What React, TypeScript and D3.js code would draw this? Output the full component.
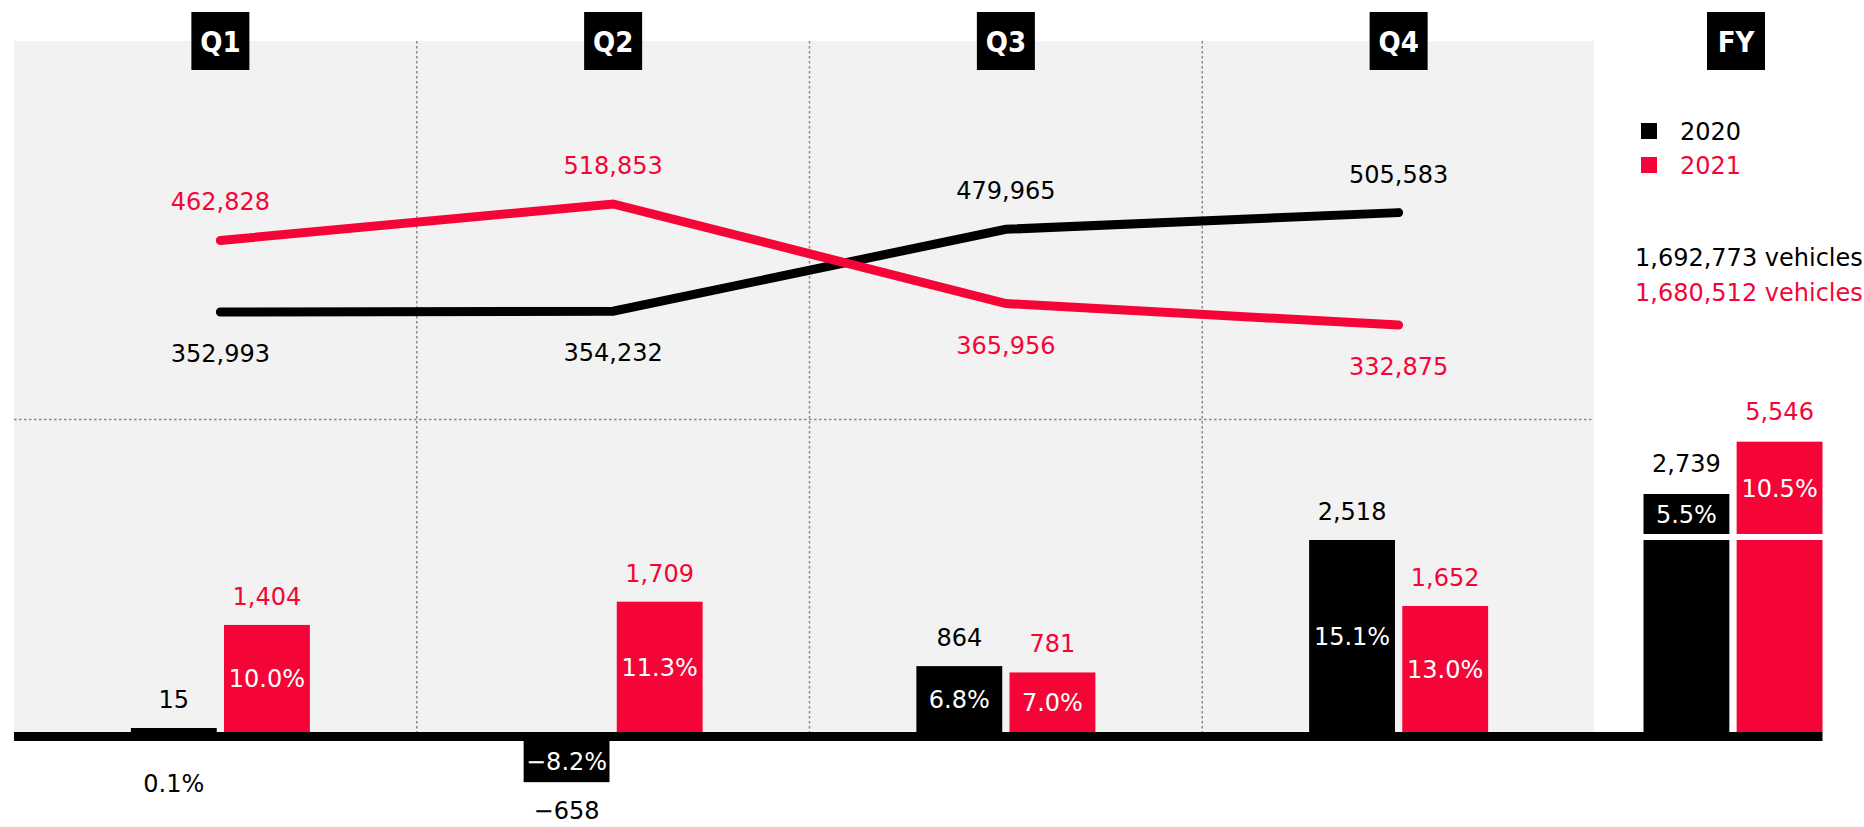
import React from 'react';
import * as d3 from 'd3';

// quarterly deliveries (line) and operating result (bars)
const quarters = ['Q1', 'Q2', 'Q3', 'Q4'];
const years = ['2020', '2021'];
const deliveries2020 = [352993, 354232, 479965, 505583];
const deliveries2021 = [462828, 518853, 365956, 332875];
const result2020 = [15, -658, 864, 2518];
const result2021 = [1404, 1709, 781, 1652];
const margin2020 = [0.1, -8.2, 6.8, 15.1];
const margin2021 = [10.0, 11.3, 7.0, 13.0];
const fyLabel = 'FY';
const fyResult = [2739, 5546];
const fyMargin = [5.5, 10.5];

const RED = '#f50537';
const BLACK = '#000000';
const FONT = '"DejaVu Sans", Verdana, sans-serif';

const W = 1864;
const H = 827;
const panelLeft = 14;
const panelRight = 1594;
const panelTop = 41;
const zeroY = 732;
const midY = 419.5;
const fyCenter = 1733;

const colors = [BLACK, RED];
const fmt = d3.format(',');
const pct = (v: number) => d3.format('.1f')(v) + '%';

export default function App() {
  const x = d3.scaleBand<string>().domain(quarters).range([24, 1595]);
  const xs = d3.scaleBand<string>().domain(years).range([-89.5, 89.5]).paddingInner(0.078);
  const cx = (q: string) => (x(q) as number) + x.bandwidth() / 2;

  const yLine = d3.scaleLinear().domain([300000, 550000]).range([346.5, 183.7]);
  const yBar = d3.scaleLinear().domain([0, 3000]).range([zeroY, 503.25]);
  const pxPerUnit = yBar(0) - yBar(1);

  const deliveries = [deliveries2020, deliveries2021];
  const results = [result2020, result2021];
  const margins = [margin2020, margin2021];
  const totals = deliveries.map((d) => d3.sum(d));

  const line = d3
    .line<number>()
    .x((_, i) => cx(quarters[i]))
    .y((d) => yLine(d));

  // FY bars are broken at the largest quarterly result
  const breakVal = d3.max([...result2020, ...result2021]) as number;
  const breakTop = yBar(breakVal);
  const upperBottom = breakTop - 6;

  const txt = { fontFamily: FONT, fontSize: 24 };

  return (
    <svg width={W} height={H} style={{ position: 'absolute', left: 0, top: 0, background: '#fff' }}>
      {/* panel */}
      <rect x={panelLeft} y={panelTop} width={panelRight - panelLeft} height={zeroY - panelTop} fill="#f2f2f2" />
      {quarters.slice(1).map((q) => (
        <line key={q} x1={x(q)} x2={x(q)} y1={panelTop} y2={zeroY} stroke="#888" strokeWidth={1.5} strokeDasharray="2.5 2.5" />
      ))}
      <line x1={panelLeft} x2={panelRight} y1={midY} y2={midY} stroke="#888" strokeWidth={1.5} strokeDasharray="2.5 2.5" />

      {/* header boxes */}
      {[...quarters, fyLabel].map((q) => {
        const c = q === fyLabel ? fyCenter + 3 : cx(q);
        return (
          <g key={q}>
            <rect x={c - 29} y={12} width={58} height={58} fill={BLACK} />
            <text x={c} y={52} textAnchor="middle" fill="#fff" fontFamily='"DejaVu Sans Condensed", "DejaVu Sans", sans-serif' fontWeight="bold" fontSize={29}>
              {q}
            </text>
          </g>
        );
      })}

      {/* delivery lines */}
      {deliveries.map((d, s) => (
        <path key={s} d={line(d) as string} fill="none" stroke={colors[s]} strokeWidth={9} strokeLinecap="round" />
      ))}
      {deliveries.map((d, s) =>
        d.map((v, i) => {
          const other = deliveries[1 - s][i];
          const above = v > other;
          return (
            <text key={`${s}-${i}`} x={cx(quarters[i])} y={yLine(v) + (above ? -30 : 50)} textAnchor="middle" fill={colors[s]} {...txt}>
              {fmt(v)}
            </text>
          );
        })
      )}

      {/* quarterly result bars */}
      {results.map((r, s) =>
        r.map((v, i) => {
          const bx = cx(quarters[i]) + (xs(years[s]) as number);
          const bw = xs.bandwidth();
          const mid = bx + bw / 2;
          const top = v >= 0 ? Math.min(yBar(v), zeroY - 4) : zeroY;
          const bottom = v >= 0 ? zeroY : yBar(v);
          const h = bottom - top;
          const m = margins[s][i];
          return (
            <g key={`${s}-${i}`}>
              <rect x={bx} y={top} width={bw} height={h} fill={colors[s]} />
              {v >= 0 ? (
                <text x={mid} y={top - 20} textAnchor="middle" fill={colors[s]} {...txt}>
                  {fmt(v)}
                </text>
              ) : (
                <text x={mid} y={bottom + 37} textAnchor="middle" fill={colors[s]} {...txt}>
                  {fmt(v)}
                </text>
              )}
              {h > 30 ? (
                <text x={mid} y={v >= 0 ? (top + bottom) / 2 + 9 : (zeroY + 9 + bottom) / 2 + 8} textAnchor="middle" fill="#fff" {...txt}>
                  {pct(m)}
                </text>
              ) : (
                <text x={mid} y={zeroY + 60} textAnchor="middle" fill={colors[s]} {...txt}>
                  {pct(m)}
                </text>
              )}
            </g>
          );
        })
      )}

      {/* FY broken bars */}
      {fyResult.map((v, s) => {
        const bx = fyCenter + (xs(years[s]) as number);
        const bw = xs.bandwidth();
        const mid = bx + bw / 2;
        const upperH = Math.max(40, (v - breakVal) * 0.4 * pxPerUnit);
        const upperTop = upperBottom - upperH;
        return (
          <g key={s}>
            <rect x={bx} y={breakTop} width={bw} height={zeroY - breakTop} fill={colors[s]} />
            <rect x={bx} y={upperTop} width={bw} height={upperH} fill={colors[s]} />
            <text x={mid} y={upperTop - 22} textAnchor="middle" fill={colors[s]} {...txt}>
              {fmt(v)}
            </text>
            <text x={mid} y={upperTop + upperH / 2 + 9} textAnchor="middle" fill="#fff" {...txt}>
              {pct(fyMargin[s])}
            </text>
          </g>
        );
      })}

      {/* zero baseline */}
      <line x1={panelLeft} x2={fyCenter + 89.5} y1={zeroY + 4.5} y2={zeroY + 4.5} stroke={BLACK} strokeWidth={9} />

      {/* legend */}
      {years.map((yr, s) => (
        <g key={yr}>
          <rect x={1641} y={123 + s * 34} width={16} height={16} fill={colors[s]} />
          <text x={1680} y={140 + s * 34} fill={colors[s]} {...txt}>
            {yr}
          </text>
        </g>
      ))}
      {totals.map((t, s) => (
        <text key={s} x={1635} y={266 + s * 35} fill={colors[s]} {...txt}>
          {fmt(t)} vehicles
        </text>
      ))}
    </svg>
  );
}
